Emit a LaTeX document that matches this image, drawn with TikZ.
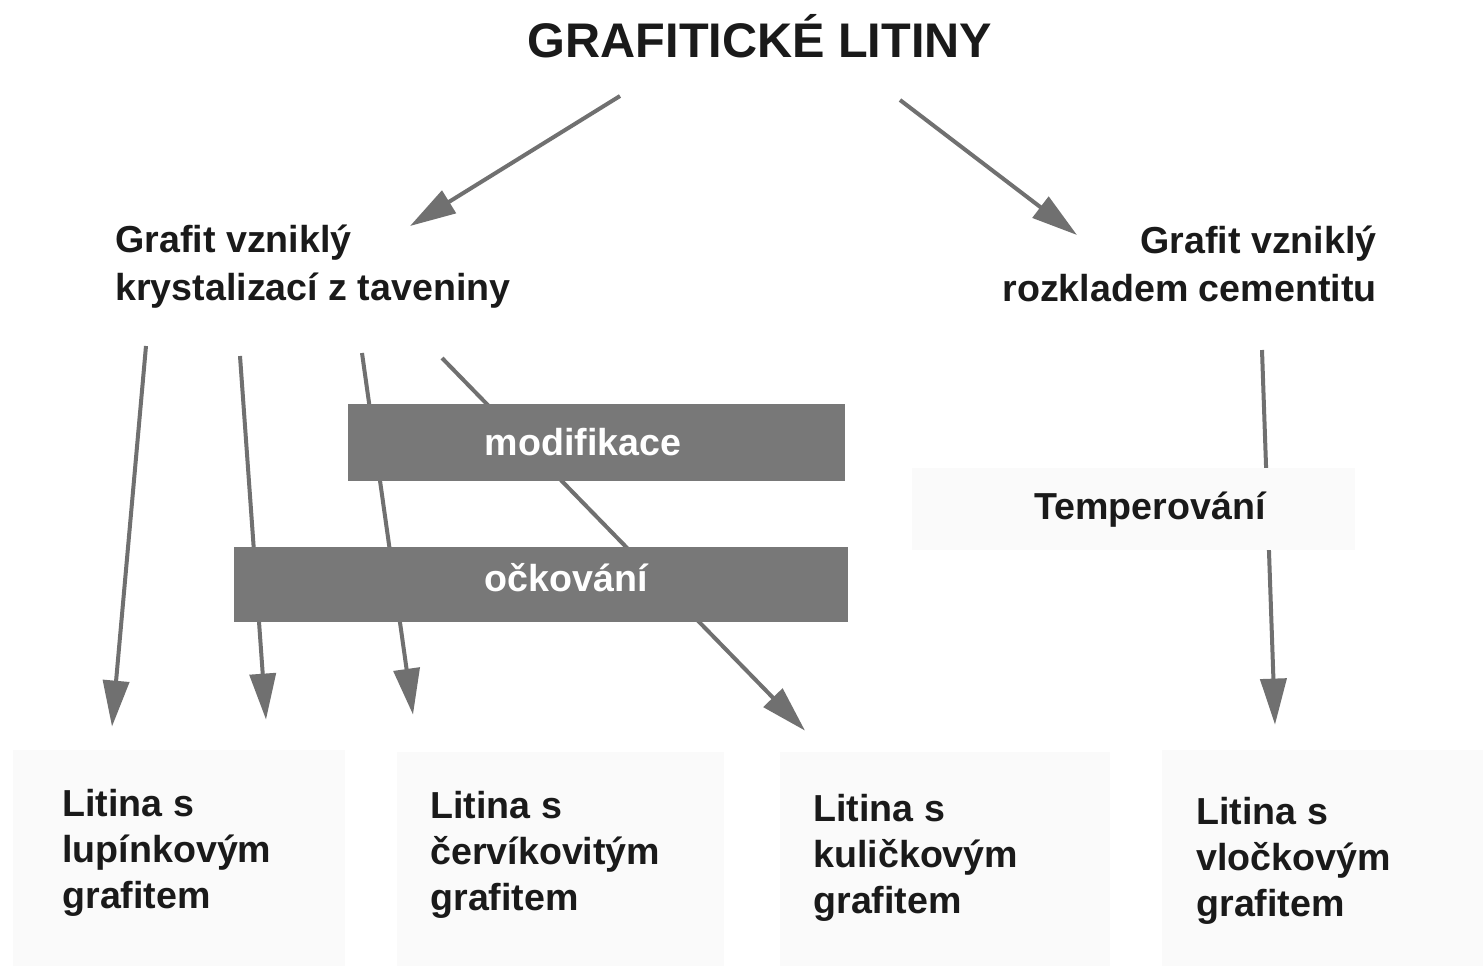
\documentclass[tikz,border=0pt]{standalone}
\usepackage{fontspec}
\setmainfont{Liberation Sans}
\usetikzlibrary{arrows.meta}
\definecolor{arrgray}{HTML}{707070}
\definecolor{boxgray}{HTML}{787878}
\definecolor{paleback}{HTML}{FAFAFA}
\definecolor{inkk}{HTML}{1A1A1A}
\begin{document}
\begin{tikzpicture}[x=0.5pt,y=-0.5pt,
  arr/.style={draw=arrgray, line width=2pt, -{Triangle[length=23pt,width=13pt]}},
  darkbox/.style={fill=boxgray, draw=none, inner sep=0pt},
  palebox/.style={fill=paleback, draw=none, inner sep=0pt},
  lbl/.style={font=\bfseries\fontsize{18.8}{24}\selectfont, text=inkk, inner sep=0pt},
  boxlbl/.style={font=\bfseries\fontsize{18.8}{23}\selectfont, text=inkk, inner sep=0pt, align=left, anchor=north west},
  whitelbl/.style={font=\bfseries\fontsize{18.8}{24}\selectfont, text=white, inner sep=0pt},
  titlelbl/.style={font=\bfseries\fontsize{24.3}{28}\selectfont, text=inkk, inner sep=0pt}]
\useasboundingbox[fill=white] (0,0) rectangle (1483,966);

% title and labels
\node[titlelbl] (title) at (760,36) {GRAFITICKÉ LITINY};
\node[lbl, align=left, anchor=north west] (lab1) at (115,225) {Grafit vzniklý\\krystalizací z taveniny};
\node[lbl, align=right, anchor=north east] (lab2) at (1377,226) {Grafit vzniklý\\rozkladem cementitu};

% bottom boxes
\node[palebox, minimum width=166pt, minimum height=108pt] (b1) at (179,858) {};
\node[palebox, minimum width=163.5pt, minimum height=107pt] (b2) at (560.5,859) {};
\node[palebox, minimum width=165pt, minimum height=107pt] (b3) at (945,859) {};
\node[palebox, minimum width=160.5pt, minimum height=108pt] (b4) at (1322.5,858) {};
\node[boxlbl] (b1t) at (62,789) {Litina s\\lupínkovým\\grafitem};
\node[boxlbl] (b2t) at (430,791) {Litina s\\červíkovitým\\grafitem};
\node[boxlbl] (b3t) at (813,794) {Litina s\\kuličkovým\\grafitem};
\node[boxlbl] (b4t) at (1196,797) {Litina s\\vločkovým\\grafitem};

% arrows
\draw[arr] ([shift={(-140,60)}]title.center) -- ([shift={(295,1)}]lab1.north west);
\draw[arr] ([shift={(140,64)}]title.center) -- ([shift={(-300,9)}]lab2.north east);
\draw[arr] ([shift={(31,121)}]lab1.north west) -- ([shift={(-67,-23)}]b1.north);
\draw[arr] ([shift={(125,131)}]lab1.north west) -- ([shift={(87,-30)}]b1.north);
\draw[arr] ([shift={(247,128)}]lab1.north west) -- ([shift={(-147.5,-37)}]b2.north);
\draw[arr] ([shift={(327,133)}]lab1.north west) -- ([shift={(-140,-21)}]b3.north);
\draw[arr] ([shift={(-115,124)}]lab2.north east) -- ([shift={(-47.5,-25)}]b4.north);

% process boxes (over the arrows)
\node[darkbox, minimum width=248.5pt, minimum height=38.5pt] (modbox) at (596.5,442.5) {};
\node[whitelbl] (modtxt) at (583,442) {modifikace};
\node[darkbox, minimum width=307pt, minimum height=37.5pt] (ockbox) at (541,584.5) {};
\node[whitelbl] (ocktxt) at (566,578) {očkování};
\node[palebox, minimum width=221.5pt, minimum height=41pt] (tempbox) at (1133.5,509) {};
\node[lbl] (temptxt) at (1150,510) {Temperování};
\end{tikzpicture}
\end{document}
